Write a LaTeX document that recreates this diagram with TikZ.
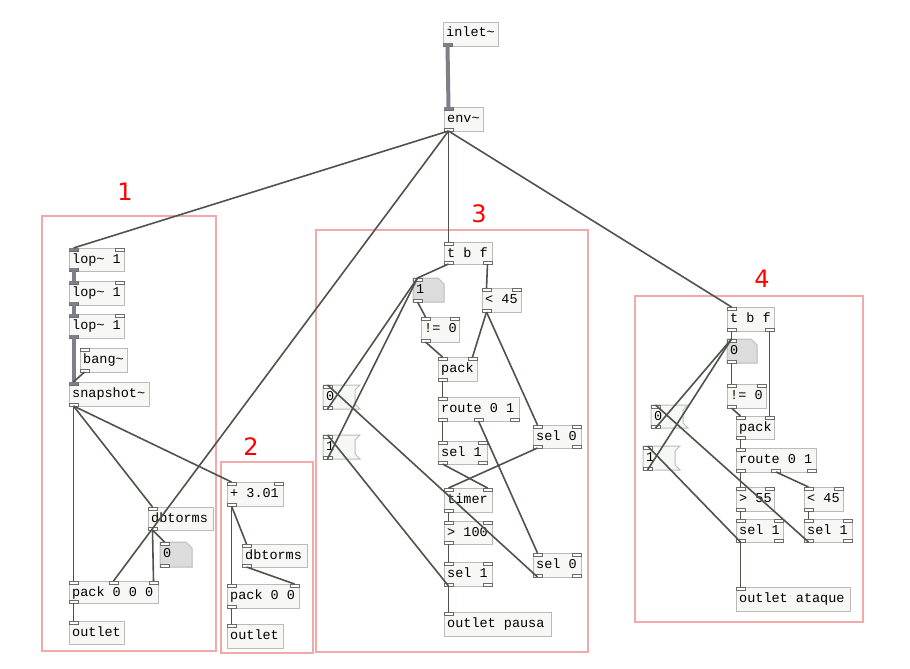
\documentclass[tikz,border=0pt]{standalone}
\usepackage{fontspec}
\usepackage{tikz}
\newfontfamily\pdfont{Liberation Mono}
\newfontfamily\labelfont{DejaVu Sans}

\definecolor{boxfill}{HTML}{F7F7F5}
\definecolor{boxline}{HTML}{BBBBBB}
\definecolor{wire}{HTML}{4D544C}
\definecolor{sigwire}{HTML}{7F7F8C}
\definecolor{framered}{HTML}{F2A9A9}
\definecolor{atomfill}{HTML}{DCDCDC}

\tikzset{
  objbox/.style={draw=boxline, fill=boxfill, line width=1pt, inner sep=0pt},
  atombox/.style={draw=boxline, fill=atomfill, line width=1pt},
  msgbox/.style={draw=boxline, fill=boxfill, line width=1pt},
  pdtext/.style={anchor=base west, inner sep=0pt, font=\pdfont\fontsize{13.5}{14}\selectfont},
  port/.style={draw=wire!85, fill=white, line width=0.8pt},
  sigport/.style={fill=sigwire},
  ctl/.style={draw=wire, line width=1.6pt},
  sig/.style={draw=sigwire, line width=4pt},
  frame/.style={draw=framered, line width=1.6pt},
  grouplabel/.style={text=red, font=\labelfont\fontsize{24}{26}\selectfont}
}

% inlets and outlets of a box: name, x1, y1, x2, y2, inlets, outlets
\newcommand{\pdports}[7]{%
  \pgfmathsetmacro{\pdw}{#4-#2}%
  \ifnum#6>0
    \pgfmathsetmacro{\pdgap}{(\pdw-9)/max(#6-1,1)}%
    \pgfmathtruncatemacro{\pdlast}{#6-1}%
    \foreach \k in {0,...,\pdlast}{%
      \pgfmathsetmacro{\px}{#2+\k*\pdgap}%
      \draw[port] (\px,#3) rectangle ++(9,3);
      \coordinate (#1-i\k) at (\px+4.5,#3);
    }%
  \fi
  \ifnum#7>0
    \pgfmathsetmacro{\pdgap}{(\pdw-9)/max(#7-1,1)}%
    \pgfmathtruncatemacro{\pdlast}{#7-1}%
    \foreach \k in {0,...,\pdlast}{%
      \pgfmathsetmacro{\px}{#2+\k*\pdgap}%
      \draw[port] (\px,#5) rectangle ++(9,-3);
      \coordinate (#1-o\k) at (\px+4.5,#5);
    }%
  \fi
}

% object box: name, x1, y1, x2, y2, text, inlets, outlets
\newcommand{\pdobj}[8]{%
  \pgfmathsetmacro{\bw}{#4-#2}\pgfmathsetmacro{\bh}{#5-#3}%
  \node[objbox, anchor=north west, minimum width=\bw pt, minimum height=\bh pt] (#1) at (#2,#3) {};
  \node[pdtext] (#1-t) at (#2+3,#3+15) {#6};
  \pdports{#1}{#2}{#3}{#4}{#5}{#7}{#8}%
}

% number box with cut corner
\newcommand{\pdatom}[6]{%
  \filldraw[atombox] (#2,#3) -- (#4-6,#3) -- (#4,#3+6) -- (#4,#5) -- (#2,#5) -- cycle;
  \node[pdtext] (#1) at (#2+3,#3+15) {#6};
  \pdports{#1}{#2}{#3}{#4}{#5}{1}{1}%
}

% message box with flag
\newcommand{\pdmsg}[6]{%
  \filldraw[msgbox] (#2,#3) -- (#4+5,#3) -- (#4,#3+5) -- (#4,#5-5) -- (#4+5,#5) -- (#2,#5) -- cycle;
  \node[pdtext] (#1) at (#2+3,#3+15) {#6};
  \pdports{#1}{#2}{#3}{#4}{#5}{1}{1}%
}

\begin{document}
\begin{tikzpicture}[x=1pt,y=-1pt]
\useasboundingbox[fill=white] (0,0) rectangle (910,669);

% Group frames
\draw[frame] (42,216) rectangle (216,651);
\draw[frame] (221,462) rectangle (313,653);
\draw[frame] (316,230) rectangle (588,652);
\draw[frame] (635,296) rectangle (863,622);
\node[grouplabel] (g1) at (125,192) {1};
\node[grouplabel] (g2) at (251,447) {2};
\node[grouplabel] (g3) at (479,214) {3};
\node[grouplabel] (g4) at (762,279) {4};

% Input
\pdobj{inlet}{443}{22}{498}{46}{inlet\char`~}{0}{1}
\pdobj{env}{444}{107}{483}{131}{env\char`~}{1}{1}

% Group 1
\pdobj{lopa}{69}{248}{124}{271}{lop\char`~{} 1}{2}{1}
\pdobj{lopb}{69}{281}{124}{305}{lop\char`~{} 1}{2}{1}
\pdobj{lopc}{69}{314}{124}{338}{lop\char`~{} 1}{2}{1}
\pdobj{bang}{80}{348}{127}{372}{bang\char`~}{1}{1}
\pdobj{snap}{69}{382}{149}{406}{snapshot\char`~}{1}{1}
\pdobj{dbA}{148}{507}{213}{530}{dbtorms}{1}{1}
\pdatom{numA}{160}{542}{192}{567}{0}
\pdobj{packA}{69}{581}{158}{603}{pack 0 0 0}{3}{1}
\pdobj{outA}{69}{621}{124}{644}{outlet}{1}{0}

% Group 2
\pdobj{add}{227}{482}{283}{506}{+ 3.01}{2}{1}
\pdobj{dbB}{242}{544}{307}{567}{dbtorms}{1}{1}
\pdobj{packB}{227}{584}{299}{608}{pack 0 0}{2}{1}
\pdobj{outB}{227}{624}{283}{648}{outlet}{1}{0}

% Group 3
\pdobj{tbfA}{444}{242}{492}{264}{t b f}{1}{2}
\pdatom{numB}{413}{278}{444}{302}{1}
\pdobj{ltA}{482}{288}{521}{312}{< 45}{2}{1}
\pdobj{neA}{421}{317}{459}{342}{!= 0}{2}{1}
\pdobj{packC}{438}{357}{477}{381}{pack}{2}{1}
\pdobj{routeA}{438}{397}{519}{421}{route 0 1}{1}{3}
\pdobj{selA}{533}{425}{581}{448}{sel 0}{2}{2}
\pdmsg{msgA}{323}{385}{355}{409}{0}
\pdmsg{msgB}{323}{435}{355}{459}{1}
\pdobj{selB}{438}{441}{487}{464}{sel 1}{2}{2}
\pdobj{timer}{444}{488}{492}{512}{timer}{2}{1}
\pdobj{gtA}{444}{521}{492}{544}{> 100}{2}{1}
\pdobj{selC}{444}{562}{492}{586}{sel 1}{2}{2}
\pdobj{selD}{533}{553}{581}{577}{sel 0}{2}{2}
\pdobj{outC}{444}{612}{551}{636}{outlet pausa}{1}{0}

% Group 4
\pdobj{tbfB}{727}{307}{774}{331}{t b f}{1}{2}
\pdatom{numC}{727}{339}{757}{363}{0}
\pdobj{neB}{727}{384}{766}{408}{!= 0}{2}{1}
\pdobj{packD}{736}{416}{774}{439}{pack}{2}{1}
\pdobj{routeB}{736}{448}{816}{472}{route 0 1}{1}{3}
\pdobj{gtB}{736}{487}{774}{511}{> 55}{2}{1}
\pdobj{ltB}{804}{487}{843}{511}{< 45}{2}{1}
\pdobj{selE}{736}{519}{783}{542}{sel 1}{2}{2}
\pdobj{selF}{804}{519}{852}{542}{sel 1}{2}{2}
\pdobj{outD}{736}{587}{850}{611}{outlet ataque}{1}{0}
\pdmsg{msgC}{651}{405}{683}{428}{0}
\pdmsg{msgD}{643}{446}{675}{470}{1}

% Signal ports
\foreach \p in {inlet-o0,lopa-o0,lopb-o0,lopc-o0}
  \fill[sigport] ([xshift=-4.5pt]\p) rectangle ([xshift=4.5pt,yshift=3pt]\p);
\foreach \p in {env-i0,lopa-i0,lopb-i0,lopc-i0,snap-i0}
  \fill[sigport] ([xshift=-4.5pt]\p) rectangle ([xshift=4.5pt,yshift=-3pt]\p);

% Signal connections
\draw[sig] (inlet-o0) -- (env-i0);
\draw[sig] (lopa-o0) -- (lopb-i0);
\draw[sig] (lopb-o0) -- (lopc-i0);
\draw[sig] (lopc-o0) -- (snap-i0);

% Control connections
\draw[ctl] (env-o0) -- (lopa-i0);
\draw[ctl] (env-o0) -- (packA-i1);
\draw[ctl] (env-o0) -- (tbfA-i0);
\draw[ctl] (env-o0) -- (tbfB-i0);
\draw[ctl] (bang-o0) -- (snap-i0);
\draw[ctl] (snap-o0) -- (packA-i0);
\draw[ctl] (snap-o0) -- (dbA-i0);
\draw[ctl] (snap-o0) -- (add-i0);
\draw[ctl] (dbA-o0) -- (packA-i2);
\draw[ctl] (dbA-o0) -- (numA-i0);
\draw[ctl] (packA-o0) -- (outA-i0);
\draw[ctl] (add-o0) -- (packB-i0);
\draw[ctl] (add-o0) -- (dbB-i0);
\draw[ctl] (dbB-o0) -- (packB-i1);
\draw[ctl] (packB-o0) -- (outB-i0);

\draw[ctl] (tbfA-o0) -- (numB-i0);
\draw[ctl] (tbfA-o1) -- (ltA-i0);
\draw[ctl] (msgA-o0) -- (numB-i0);
\draw[ctl] (msgB-o0) -- (numB-i0);
\draw[ctl] (numB-o0) -- (neA-i0);
\draw[ctl] (neA-o0) -- (packC-i0);
\draw[ctl] (ltA-o0) -- (packC-i1);
\draw[ctl] (ltA-o0) -- (selA-i0);
\draw[ctl] (packC-o0) -- (routeA-i0);
\draw[ctl] (routeA-o0) -- (selB-i0);
\draw[ctl] (routeA-o1) -- (selD-i0);
\draw[ctl] (selB-o0) -- (timer-i1);
\draw[ctl] (selA-o0) -- (timer-i0);
\draw[ctl] (timer-o0) -- (gtA-i0);
\draw[ctl] (gtA-o0) -- (selC-i0);
\draw[ctl] (selC-o0) -- (outC-i0);
\draw[ctl] (selC-o0) -- (msgB-i0);
\draw[ctl] (selD-o0) -- (msgA-i0);

\draw[ctl] (tbfB-o0) -- (numC-i0);
\draw[ctl] (tbfB-o1) -- (packD-i1);
\draw[ctl] (msgC-o0) -- (numC-i0);
\draw[ctl] (msgD-o0) -- (numC-i0);
\draw[ctl] (numC-o0) -- (neB-i0);
\draw[ctl] (neB-o0) -- (packD-i0);
\draw[ctl] (packD-o0) -- (routeB-i0);
\draw[ctl] (routeB-o0) -- (gtB-i0);
\draw[ctl] (routeB-o1) -- (ltB-i0);
\draw[ctl] (gtB-o0) -- (selE-i0);
\draw[ctl] (ltB-o0) -- (selF-i0);
\draw[ctl] (selE-o0) -- (outD-i0);
\draw[ctl] (selE-o0) -- (msgD-i0);
\draw[ctl] (selF-o0) -- (msgC-i0);

\end{tikzpicture}
\end{document}
